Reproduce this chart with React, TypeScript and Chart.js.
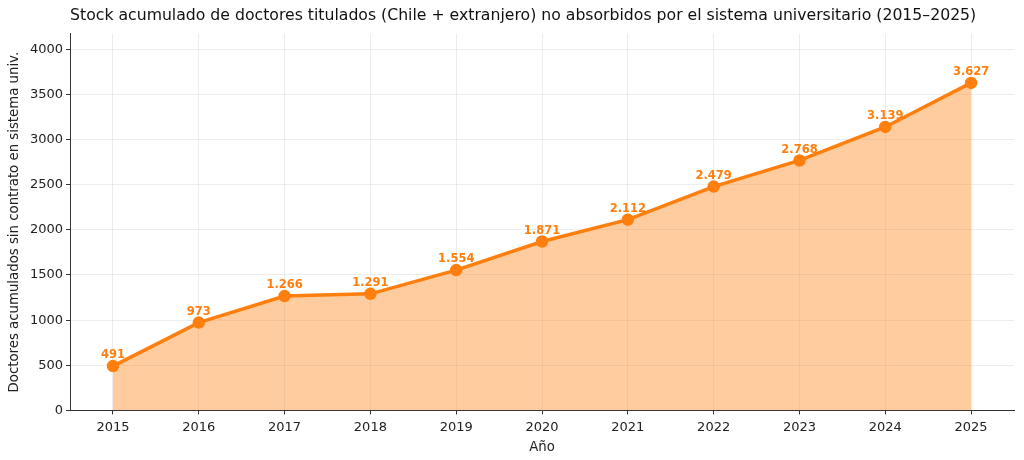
import React, { useEffect, useRef } from "react";
import { Chart, registerables } from "chart.js";

Chart.register(...registerables);

const years = [2015, 2016, 2017, 2018, 2019, 2020, 2021, 2022, 2023, 2024, 2025];
const stock = [491, 973, 1266, 1291, 1554, 1871, 2112, 2479, 2768, 3139, 3627];
const yTicks = [0, 500, 1000, 1500, 2000, 2500, 3000, 3500, 4000];

const TITLE = "Stock acumulado de doctores titulados (Chile + extranjero) no absorbidos por el sistema universitario (2015–2025)";
const Y_TITLE = "Doctores acumulados sin contrato en sistema univ.";
const X_TITLE = "Año";

const ORANGE = "#ff7f0e";
const FONT = "'DejaVu Sans', sans-serif";

const fmt = (v: number) => String(Math.round(v)).replace(/\B(?=(\d{3})+(?!\d))/g, ".");

const labelPlugin = {
  id: "pointLabels",
  afterDatasetsDraw(chart: any) {
    const ctx = chart.ctx;
    const meta = chart.getDatasetMeta(0);
    ctx.save();
    ctx.font = `bold 11.5px ${FONT}`;
    ctx.fillStyle = ORANGE;
    ctx.textAlign = "center";
    ctx.textBaseline = "bottom";
    meta.data.forEach((pt: any, i: number) => {
      ctx.fillText(fmt(stock[i]), pt.x, pt.y - 5);
    });
    ctx.restore();
  },
};

export default function App() {
  const ref = useRef<HTMLCanvasElement>(null);
  useEffect(() => {
    document.body.style.margin = "0";
    const chart = new Chart(ref.current!, {
      type: "line",
      data: {
        datasets: [
          {
            data: years.map((y, i) => ({ x: y, y: stock[i] })),
            borderColor: ORANGE,
            backgroundColor: "rgba(255,127,14,0.4)",
            borderWidth: 3.5,
            pointRadius: 4.5,
            pointBackgroundColor: ORANGE,
            pointBorderColor: ORANGE,
            fill: "origin",
            tension: 0,
          },
        ],
      },
      options: {
        animation: false,
        responsive: false,
        layout: { padding: { left: 7, right: 10, top: 0, bottom: 4 } },
        plugins: {
          legend: { display: false },
          tooltip: { enabled: false },
          title: {
            display: true,
            text: TITLE,
            align: "start",
            fullSize: false,
            color: "#111",
            font: { family: FONT, size: 15.7, weight: "normal" },
            padding: { top: 7, bottom: 8 },
          },
        },
        scales: {
          x: {
            type: "linear",
            min: 2014.5,
            max: 2025.5,
            afterBuildTicks: (axis: any) => {
              axis.ticks = years.map((v) => ({ value: v }));
            },
            ticks: {
              color: "#222",
              font: { family: FONT, size: 13 },
              padding: 5,
              callback: (v: any) => String(v),
            },
            grid: { color: "rgba(0,0,0,0.07)", tickColor: "#333", tickLength: 4 },
            border: { color: "#333", width: 1 },
            title: { display: true, text: X_TITLE, color: "#222", font: { family: FONT, size: 13.3 }, padding: { top: 0, bottom: 0 } },
          },
          y: {
            min: 0,
            max: 4170,
            afterBuildTicks: (axis: any) => {
              axis.ticks = yTicks.map((v) => ({ value: v }));
            },
            ticks: {
              color: "#222",
              font: { family: FONT, size: 13 },
              padding: 3,
              callback: (v: any) => String(v),
            },
            grid: { color: "rgba(0,0,0,0.07)", tickColor: "#333", tickLength: 4 },
            border: { color: "#333", width: 1 },
            title: { display: true, text: Y_TITLE, color: "#222", font: { family: FONT, size: 13.3 }, padding: { top: 0, bottom: 4 } },
          },
        },
      },
      plugins: [labelPlugin],
    } as any);
    return () => chart.destroy();
  }, []);
  return (
    <div style={{ width: 1024, height: 460 }}>
      <canvas ref={ref} width={1024} height={460} style={{ width: 1024, height: 460 }} />
    </div>
  );
}
